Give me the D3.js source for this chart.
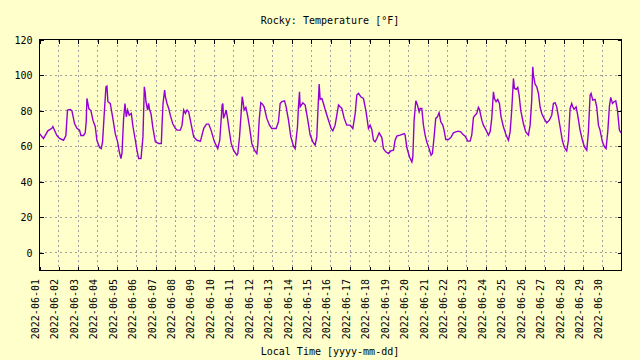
<!DOCTYPE html>
<html>
<head>
<meta charset="utf-8">
<script src="https://cdn.jsdelivr.net/npm/d3@7"></script>
<style>
  html, body { margin: 0; padding: 0; background: #ffffcc; }
  svg { display: block; }
  text { font-family: "DejaVu Sans Mono", monospace; font-size: 10px; fill: #000; }
</style>
</head>
<body>
<svg id="chart" width="640" height="360"></svg>
<script>
// ---- data ----
const title = "Rocky: Temperature [°F]";
const xTitle = "Local Time [yyyy-mm-dd]";
const startDate = "2022-06-01T00:00";
const endHour = 719;
// hours since 2022-06-01 00:00 local
const hours = [
  0, 4.9, 10.3, 15.3, 16.5, 21.4, 24.7, 29.7, 32.6, 34.6, 37.9, 40, 43.3, 46.2, 49.5, 51.1, 54.4, 56.5, 57.7, 58.6,
  59.4, 61, 63.5, 66, 68.9, 70.9, 74.2, 76.3, 77.9, 80, 82.1, 83.3, 84.5, 87.4, 90.3, 93.6, 96.5, 98.6, 100.6, 101.9,
  103.9, 105.6, 107.2, 108.9, 110.9, 113.4, 115.5, 118.4, 120.4, 122.5, 125.4, 127.8, 129.5, 130.7, 131.5, 133.6, 134.8, 136.1, 137.7, 140.2,
  143.1, 147.2, 150.5, 151.3, 152.6, 154.6, 155.5, 157.5, 159.6, 161.6, 164.5, 167.8, 169.9, 174, 176.1, 178.1, 180.2, 182.3, 184.3, 187.2,
  190.5, 194.6, 198.8, 202.9, 206.2, 209.1, 211.9, 216.1, 220.2, 222.7, 225.6, 226.5, 227.3, 229.4, 230.6, 232.3, 234.3, 236.8, 239.7, 243.8,
  245, 247.1, 249.1, 250.4, 251.2, 252.8, 254.9, 257, 259.4, 262.3, 265.6, 268.5, 269.7, 271.4, 273.4, 275.5, 277.5, 280.8, 284.1, 287,
  292.4, 295.2, 297.3, 299.4, 302.7, 304.7, 307.6, 310.5, 313.8, 315.8, 318.7, 319.9, 321.2, 322, 325.3, 328.2, 331.1, 334.4, 337.7, 340.5,
  342.6, 343.8, 345.5, 346.7, 348.8, 350.8, 353.7, 357, 360.3, 362.4, 365.2, 367.3, 369.4, 371.4, 373.5, 376.4, 379.6, 383.8, 387.1, 390,
  392, 394.1, 396.9, 400.2, 403.1, 406.4, 408.5, 410.5, 412.6, 414.6, 416.7, 419.6, 422.9, 424.9, 427.8, 431.1, 434, 437.3, 439.3, 441.4,
  445.5, 450.5, 451.7, 453.8, 457.1, 460, 461.2, 462.8, 464.9, 466.9, 469, 470.2, 472.3, 474.3, 476.4, 478.4, 481.3, 483.8, 485.4, 487.5,
  489.5, 491.6, 493.7, 495.7, 498.2, 499.8, 501.9, 505.2, 508.1, 511.4, 514.3, 517.5, 520.4, 522.9, 525.8, 529.1, 532, 534, 536.1, 538.1,
  540.2, 542.2, 543.5, 546.4, 548.4, 551.7, 554.6, 556.7, 558.7, 560.8, 562, 564.1, 566.1, 568.2, 570.2, 573.1, 576.4, 579.3, 581.4, 583.4,
  585.5, 586.7, 588.8, 590.8, 592.5, 594.5, 597.8, 600.7, 604, 606.1, 608.1, 609.4, 610.2, 612.2, 614.3, 616.4, 618.4, 620.5, 623.3, 626.6,
  629.9, 632.8, 634.9, 636.9, 639, 641.1, 643.1, 646, 648.5, 651.3, 653.4, 655.5, 657.5, 658.8, 660.4, 662.9, 664.9, 667.8, 670.7, 673.2,
  676.1, 678.1, 680.2, 681.4, 683.5, 686.3, 688.4, 690.5, 692.5, 695.4, 697.9, 699.9, 702, 704.1, 705.7, 707.8, 709.8, 711.9, 714, 716.4,
  718.5
];
const temps = [
  67, 64.3, 68.6, 70, 71, 66, 64.3, 63.3, 66, 80.3, 80.6, 80, 72.7, 70, 69, 66, 66, 67.5, 73.7, 86.8,
  85, 81, 80, 74.6, 70.9, 63.3, 59.2, 58.6, 62.4, 78.4, 93.4, 93.8, 85, 84, 76.5, 67, 62.4, 56.8, 53, 56,
  75.5, 84, 76.5, 80.3, 77.4, 78.4, 70.9, 63.3, 57.7, 53, 53, 65.2, 93.4, 89.7, 85, 80.3, 84, 80.3, 78.4, 70,
  62.4, 61.5, 61.5, 71, 84, 91.5, 87.8, 84, 81.2, 77.4, 72.7, 70, 69, 69, 71.8, 80.3, 78.4, 80.3, 79.3, 72.7,
  65.2, 63.3, 62.8, 70, 72.4, 72.4, 69, 62.4, 58.6, 63.3, 83, 84, 75.6, 78.4, 80.3, 75.6, 69, 61.5, 57.7, 54.9,
  55.8, 65.2, 78.4, 87.8, 85.9, 80.3, 81.8, 77.4, 70.9, 61.5, 57.7, 55.8, 60.5, 74.6, 84.4, 83.6, 82.1, 75.6, 71.8, 69.9,
  69.9, 73.7, 84, 85, 85.5, 82.1, 74.6, 65.2, 60, 58.6, 70.9, 82.1, 90.6, 82.1, 84.4, 83.1, 75.6, 66.2, 62.4, 60.5,
  65.2, 78.4, 95, 86.3, 86.8, 84, 79.3, 74.6, 69.9, 68.6, 71.8, 77.4, 83.1, 82.1, 81.2, 75.6, 71.8, 71.8, 69.9, 78.4,
  88.7, 89.7, 87.8, 86.8, 80.3, 69.9, 71.8, 69.4, 63.3, 62.4, 64.3, 67.5, 64.8, 58.6, 56.8, 55.8, 57.3, 57.7, 63.3, 65.6,
  66.2, 67.1, 66.2, 59.2, 53.9, 51.1, 53.9, 74.6, 85.5, 83.1, 79.3, 81.2, 81.2, 71.8, 66.2, 62.4, 58.6, 54.9, 55.8, 65.2,
  75.6, 76.5, 78.8, 73.7, 71.8, 69, 63.7, 63.7, 64.8, 67.5, 68, 68.4, 68, 66.7, 65.6, 62.8, 62.8, 66.2, 76.1, 77.4,
  78.4, 81.8, 80.7, 74.6, 71.8, 69, 66.2, 68, 75.6, 90.6, 86.8, 85, 86.3, 84, 76.5, 70.9, 66.2, 63.3, 68, 80.3,
  98.1, 92.5, 91.9, 93, 88.7, 80.3, 72.7, 68, 66.2, 71.8, 85.9, 104.7, 100, 94.9, 93.4, 89.7, 82.1, 78.4, 75.6, 73.1,
  74.6, 77.4, 84, 84.4, 82.1, 76.5, 70.9, 63, 59.2, 57.3, 63.3, 81.2, 84, 82.1, 80.7, 82.1, 77.4, 69, 63.3, 59.6,
  57.7, 68, 88.7, 89.7, 85.9, 86.3, 82.1, 71.8, 69, 62.4, 59.6, 58.6, 68, 82.5, 87.4, 84, 85, 85.5, 80.3, 69,
  67.5
];
const yTicks = [0, 20, 40, 60, 80, 100, 120];
const yDomain = [-10, 120];
const dayLabels = [
  "2022-06-01", "2022-06-02", "2022-06-03", "2022-06-04", "2022-06-05", "2022-06-06",
  "2022-06-07", "2022-06-08", "2022-06-09", "2022-06-10", "2022-06-11", "2022-06-12",
  "2022-06-13", "2022-06-14", "2022-06-15", "2022-06-16", "2022-06-17", "2022-06-18",
  "2022-06-19", "2022-06-20", "2022-06-21", "2022-06-22", "2022-06-23", "2022-06-24",
  "2022-06-25", "2022-06-26", "2022-06-27", "2022-06-28", "2022-06-29", "2022-06-30"
];

// ---- drawing ----
const svg = d3.select("#chart");
const L = 39.5, R = 621.5, T = 39.5, B = 270.5;
const parse = d3.timeParse("%Y-%m-%dT%H:%M");
const parseDay = d3.timeParse("%Y-%m-%d");
const t0 = parse(startDate);
const t1 = d3.timeHour.offset(t0, endHour);
const x = d3.scaleTime().domain([t0, t1]).range([L, R]);
const y = d3.scaleLinear().domain(yDomain).range([B, T]);

svg.append("rect").attr("width", 640).attr("height", 360).attr("fill", "#ffffcc");

const dayDates = dayLabels.map(parseDay);

// grid
const grid = svg.append("g").attr("stroke", "#a0a0a0").attr("stroke-width", 1)
  .attr("stroke-dasharray", "2,3").attr("shape-rendering", "crispEdges");
grid.selectAll("line.gy").data(yTicks.filter(v => v < yDomain[1])).join("line")
  .attr("x1", L).attr("x2", R)
  .attr("y1", d => Math.round(y(d) - 0.5) + 0.5).attr("y2", d => Math.round(y(d) - 0.5) + 0.5);
grid.selectAll("line.gx").data(dayDates.slice(1)).join("line")
  .attr("y1", T).attr("y2", B)
  .attr("x1", d => Math.round(x(d) - 0.5) + 0.5).attr("x2", d => Math.round(x(d) - 0.5) + 0.5);

// data line
const pts = hours.map((h, i) => ({ date: new Date(t0.getTime() + h * 3600e3), v: temps[i] }));
svg.append("path").datum(pts)
  .attr("fill", "none").attr("stroke", "#9400d3").attr("stroke-width", 1.4)
  .attr("stroke-linejoin", "miter")
  .attr("d", d3.line().x(d => x(d.date)).y(d => y(d.v)));

// axes (ticks inward, mirrored)
const tk = 4;
const axL = d3.axisLeft(y).tickValues(yTicks).tickSize(-tk).tickPadding(7).tickFormat(d3.format("d"));
const gL = svg.append("g").attr("transform", `translate(${L},0)`).call(axL);
const axR = d3.axisRight(y).tickValues(yTicks).tickSize(-tk).tickFormat("");
const gR = svg.append("g").attr("transform", `translate(${R},0)`).call(axR);
const axB = d3.axisBottom(x).tickValues(dayDates).tickSize(-tk).tickFormat("");
const gB = svg.append("g").attr("transform", `translate(0,${B})`).call(axB);
const axT = d3.axisTop(x).tickValues(dayDates).tickSize(-tk).tickFormat("");
const gT = svg.append("g").attr("transform", `translate(0,${T})`).call(axT);
[gL, gR, gB, gT].forEach(g => {
  g.select(".domain").remove();
  g.selectAll("line").attr("stroke", "#000").attr("shape-rendering", "crispEdges");
  g.selectAll("text").attr("font-family", "DejaVu Sans Mono, monospace").attr("font-size", 10).attr("fill", "#000");
});
gL.selectAll("text").attr("dy", "0.35em");

// border
svg.append("rect").attr("x", L).attr("y", T).attr("width", R - L).attr("height", B - T)
  .attr("fill", "none").attr("stroke", "#000").attr("stroke-width", 1).attr("shape-rendering", "crispEdges");

// rotated x tick labels
svg.append("g").selectAll("text").data(dayLabels).join("text")
  .attr("transform", (d, i) => `translate(${x(dayDates[i]) - 0.5},279) rotate(-90)`)
  .attr("text-anchor", "end")
  .text(d => d);

// titles
svg.append("text").attr("x", 330).attr("y", 24).attr("text-anchor", "middle").text(title);
svg.append("text").attr("x", 330).attr("y", 355).attr("text-anchor", "middle").text(xTitle);
</script>
</body>
</html>
